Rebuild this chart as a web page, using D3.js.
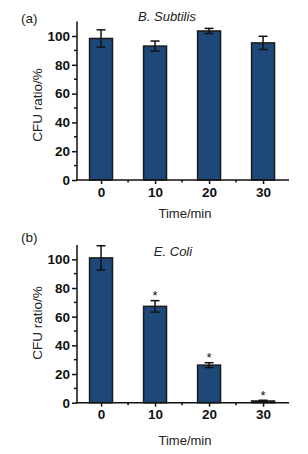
<!DOCTYPE html>
<html>
<head>
<meta charset="utf-8">
<script src="https://cdnjs.cloudflare.com/ajax/libs/d3/7.8.5/d3.min.js"></script>
<style>
    body { margin: 0; background: #fff; }
    svg { display: block; font-family: "Liberation Sans", Arial, sans-serif; }
    .tick text { font-family: "Liberation Sans", Arial, sans-serif; font-weight: bold; font-size: 13.5px; fill: #111; }
    .axis path, .axis line { stroke: #111; stroke-width: 1.5; }
</style>
</head>
<body>
<script>
(function(){

    var times = [0, 10, 20, 30];
    var xTickLabels = ["0", "10", "20", "30"];
    var yTicks = [0, 20, 40, 60, 80, 100];

    var subtilisMean = [98.3, 93, 103.5, 95.2];
    var subtilisErr = [6, 3.5, 1.8, 4.6];
    var subtilisStar = [false, false, false, false];

    var coliMean = [101, 67.2, 26.2, 1.2];
    var coliErr = [8.5, 4, 1.7, 0.5];
    var coliStar = [false, true, true, true];

    var width = 308, height = 454;

    var svg = d3.select("body").append("svg")
        .attr("width", width)
        .attr("height", height);

    var panels = [
        { tag: "(a)", title: "B. Subtilis", means: subtilisMean, errs: subtilisErr, stars: subtilisStar,
          y0: 180, y110: 21.6, tagY: 23, titleX: 167, titleY: 21, xLabY: 218, yLabY: 105 },
        { tag: "(b)", title: "E. Coli", means: coliMean, errs: coliErr, stars: coliStar,
          y0: 402.7, y110: 245, tagY: 242, titleX: 173, titleY: 256, xLabY: 445, yLabY: 323 }
    ];

    panels.forEach(drawPanel);

    function drawPanel(p) {
        var x = d3.scaleLinear()
            .domain([-4.45, 34.8])
            .range([77, 289]);

        var y = d3.scaleLinear()
            .domain([0, 110])
            .range([p.y0, p.y110]);

        var g = svg.append("g");
        var barW = x(4.25) - x(0);

        var rows = times.map(function(t, i) {
            return { t: t, m: p.means[i], e: p.errs[i], s: p.stars[i] };
        });

        g.selectAll(".bar")
            .data(rows)
            .enter()
            .append("rect")
            .attr("class", "bar")
            .attr("x", function(d) { return x(d.t) - barW / 2; })
            .attr("width", barW)
            .attr("y", function(d) { return y(d.m); })
            .attr("height", function(d) { return y(0) - y(d.m); })
            .style("fill", "#1d4878")
            .style("stroke", "#1a1a1a")
            .style("stroke-width", 1.5);

        // error bars
        var err = g.selectAll(".err")
            .data(rows)
            .enter()
            .append("g")
            .attr("class", "err")
            .style("stroke", "#111")
            .style("stroke-width", 1.5);

        err.append("line")
            .attr("x1", function(d) { return x(d.t); })
            .attr("x2", function(d) { return x(d.t); })
            .attr("y1", function(d) { return y(d.m + d.e); })
            .attr("y2", function(d) { return y(d.m - d.e); });

        [1, -1].forEach(function(sign) {
            err.append("line")
                .attr("x1", function(d) { return x(d.t) - 4.5; })
                .attr("x2", function(d) { return x(d.t) + 4.5; })
                .attr("y1", function(d) { return y(d.m + sign * d.e); })
                .attr("y2", function(d) { return y(d.m + sign * d.e); });
        });

        g.selectAll(".star")
            .data(rows.filter(function(d) { return d.s; }))
            .enter()
            .append("text")
            .attr("class", "star")
            .attr("x", function(d) { return x(d.t); })
            .attr("y", function(d) { return y(d.m + d.e) - 0.5; })
            .attr("text-anchor", "middle")
            .style("font-size", "13px")
            .style("fill", "#111")
            .text("*");

        // y axis with minor ticks
        var yAxis = g.append("g")
            .attr("class", "axis")
            .attr("transform", "translate(" + x.range()[0] + ",0)")
            .call(d3.axisLeft(y).tickValues(yTicks).tickSize(5).tickPadding(2).tickSizeOuter(0));
        yAxis.select(".domain").attr("d", "M0," + p.y0 + "V" + p.y110);
        yAxis.selectAll(".minor")
            .data([10, 30, 50, 70, 90])
            .enter()
            .append("line")
            .attr("class", "minor")
            .attr("x1", -3).attr("x2", 0)
            .attr("y1", function(d) { return y(d); })
            .attr("y2", function(d) { return y(d); });

        // x axis with minor ticks
        var xAxis = g.append("g")
            .attr("class", "axis")
            .attr("transform", "translate(0," + p.y0 + ")")
            .call(d3.axisBottom(x).tickValues(times).tickFormat(function(d, i) { return xTickLabels[i]; })
                .tickSize(4).tickPadding(3).tickSizeOuter(0));
        xAxis.select(".domain").attr("d", "M" + (x.range()[0] - 1) + ",0H" + x.range()[1]);
        xAxis.selectAll(".minor")
            .data([5, 15, 25])
            .enter()
            .append("line")
            .attr("class", "minor")
            .attr("y1", 0).attr("y2", 2.5)
            .attr("x1", function(d) { return x(d); })
            .attr("x2", function(d) { return x(d); });

        svg.append("text")
            .attr("x", 21)
            .attr("y", p.tagY)
            .style("font-size", "13.5px")
            .style("fill", "#222")
            .text(p.tag);

        svg.append("text")
            .attr("x", p.titleX)
            .attr("y", p.titleY)
            .attr("text-anchor", "middle")
            .style("font-size", "13px")
            .style("font-style", "italic")
            .style("fill", "#222")
            .text(p.title);

        svg.append("text")
            .attr("x", 185)
            .attr("y", p.xLabY)
            .attr("text-anchor", "middle")
            .style("font-size", "13px")
            .style("fill", "#222")
            .text("Time/min");

        svg.append("text")
            .attr("transform", "translate(42," + p.yLabY + ") rotate(-90)")
            .attr("text-anchor", "middle")
            .style("font-size", "13.5px")
            .style("fill", "#222")
            .text("CFU ratio/%");
    }

})();
</script>
</body>
</html>
